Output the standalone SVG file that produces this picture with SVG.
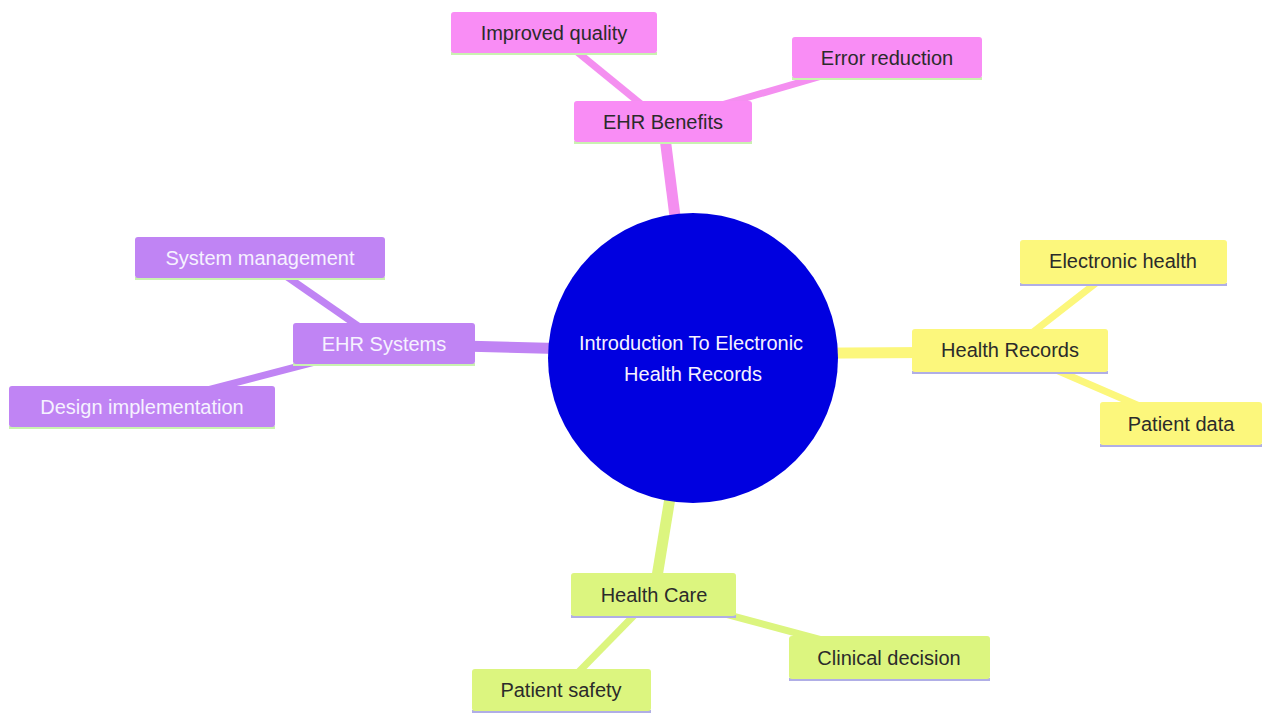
<svg xmlns="http://www.w3.org/2000/svg" width="1262" height="713" viewBox="0 0 1262 713">
<style>
text{font-family:"Liberation Sans",Arial,sans-serif;font-size:20px;text-anchor:middle;dominant-baseline:central}
.pk rect.b{fill:#f98df5}
.pu rect.b{fill:#c084f4}
.ye rect.b{fill:#fcf77c}
.gr rect.b{fill:#dcf57f}
.dk{fill:#2b2b2b}
.wt{fill:#f6f2ff}
.ul-g{fill:#c9f2b0}
.ul-v{fill:#b0aee6}
.m{stroke-width:11;stroke-linecap:butt;fill:none}
.s{stroke-width:7;stroke-linecap:butt;fill:none}
</style>
<rect width="1262" height="713" fill="#ffffff"/>
<g id="connectors">
<line class="m" x1="693" y1="358" x2="663" y2="122" stroke="#f48ff0"/>
<line class="s" x1="663" y1="122" x2="554" y2="33" stroke="#f48ff0"/>
<line class="s" x1="663" y1="122" x2="887" y2="57" stroke="#f48ff0"/>
<line class="m" x1="693" y1="352" x2="384" y2="344" stroke="#c084f4"/>
<line class="s" x1="384" y1="344" x2="260" y2="258" stroke="#c084f4"/>
<line class="s" x1="384" y1="344" x2="142" y2="407" stroke="#c084f4"/>
<line class="m" x1="693" y1="354" x2="1010" y2="352" stroke="#fcf77c"/>
<line class="s" x1="1010" y1="350" x2="1123" y2="262" stroke="#fcf77c"/>
<line class="s" x1="1010" y1="350" x2="1181" y2="424" stroke="#fcf77c"/>
<line class="m" x1="693" y1="358" x2="654" y2="595" stroke="#dcf57f"/>
<line class="s" x1="654" y1="595" x2="561" y2="690" stroke="#dcf57f"/>
<line class="s" x1="654" y1="595" x2="889" y2="658" stroke="#dcf57f"/>
</g>
<g id="center">
<circle cx="693" cy="358" r="145" fill="#0000e0"/>
<text x="691" y="343" class="wt" fill="#eeeeff">Introduction To Electronic</text>
<text x="693" y="374" class="wt">Health Records</text>
</g>
<g id="ehr-benefits" class="pk">
<rect class="ul-g" x="574" y="141" width="178" height="3"/>
<rect class="b" x="574" y="101" width="178" height="41" rx="3"/>
<text x="663" y="122" class="dk">EHR Benefits</text>
</g>
<g id="improved-quality" class="pk">
<rect class="ul-g" x="451" y="52" width="206" height="3"/>
<rect class="b" x="451" y="12" width="206" height="41" rx="3"/>
<text x="554" y="33" class="dk">Improved quality</text>
</g>
<g id="error-reduction" class="pk">
<rect class="ul-g" x="792" y="77" width="190" height="3"/>
<rect class="b" x="792" y="37" width="190" height="41" rx="3"/>
<text x="887" y="58" class="dk">Error reduction</text>
</g>
<g id="ehr-systems" class="pu">
<rect class="ul-g" x="293" y="363" width="182" height="3"/>
<rect class="b" x="293" y="323" width="182" height="41" rx="3"/>
<text x="384" y="344" class="wt">EHR Systems</text>
</g>
<g id="system-management" class="pu">
<rect class="ul-g" x="135" y="277" width="250" height="3"/>
<rect class="b" x="135" y="237" width="250" height="41" rx="3"/>
<text x="260" y="258" class="wt">System management</text>
</g>
<g id="design-implementation" class="pu">
<rect class="ul-g" x="9" y="426" width="266" height="3"/>
<rect class="b" x="9" y="386" width="266" height="41" rx="3"/>
<text x="142" y="407" class="wt">Design implementation</text>
</g>
<g id="health-records" class="ye">
<rect class="ul-v" x="912" y="371" width="196" height="3"/>
<rect class="b" x="912" y="329" width="196" height="43" rx="3"/>
<text x="1010" y="350" class="dk">Health Records</text>
</g>
<g id="electronic-health" class="ye">
<rect class="ul-v" x="1020" y="283" width="207" height="3"/>
<rect class="b" x="1020" y="240" width="207" height="44" rx="3"/>
<text x="1123" y="261" class="dk">Electronic health</text>
</g>
<g id="patient-data" class="ye">
<rect class="ul-v" x="1100" y="444" width="162" height="3"/>
<rect class="b" x="1100" y="402" width="162" height="43" rx="3"/>
<text x="1181" y="424" class="dk">Patient data</text>
</g>
<g id="health-care" class="gr">
<rect class="ul-v" x="571" y="615" width="165" height="3"/>
<rect class="b" x="571" y="573" width="165" height="43" rx="3"/>
<text x="654" y="595" class="dk">Health Care</text>
</g>
<g id="clinical-decision" class="gr">
<rect class="ul-v" x="789" y="678" width="201" height="3"/>
<rect class="b" x="789" y="636" width="201" height="43" rx="3"/>
<text x="889" y="658" class="dk">Clinical decision</text>
</g>
<g id="patient-safety" class="gr">
<rect class="ul-v" x="472" y="710" width="179" height="3"/>
<rect class="b" x="472" y="669" width="179" height="42" rx="3"/>
<text x="561" y="690" class="dk">Patient safety</text>
</g>
</svg>
